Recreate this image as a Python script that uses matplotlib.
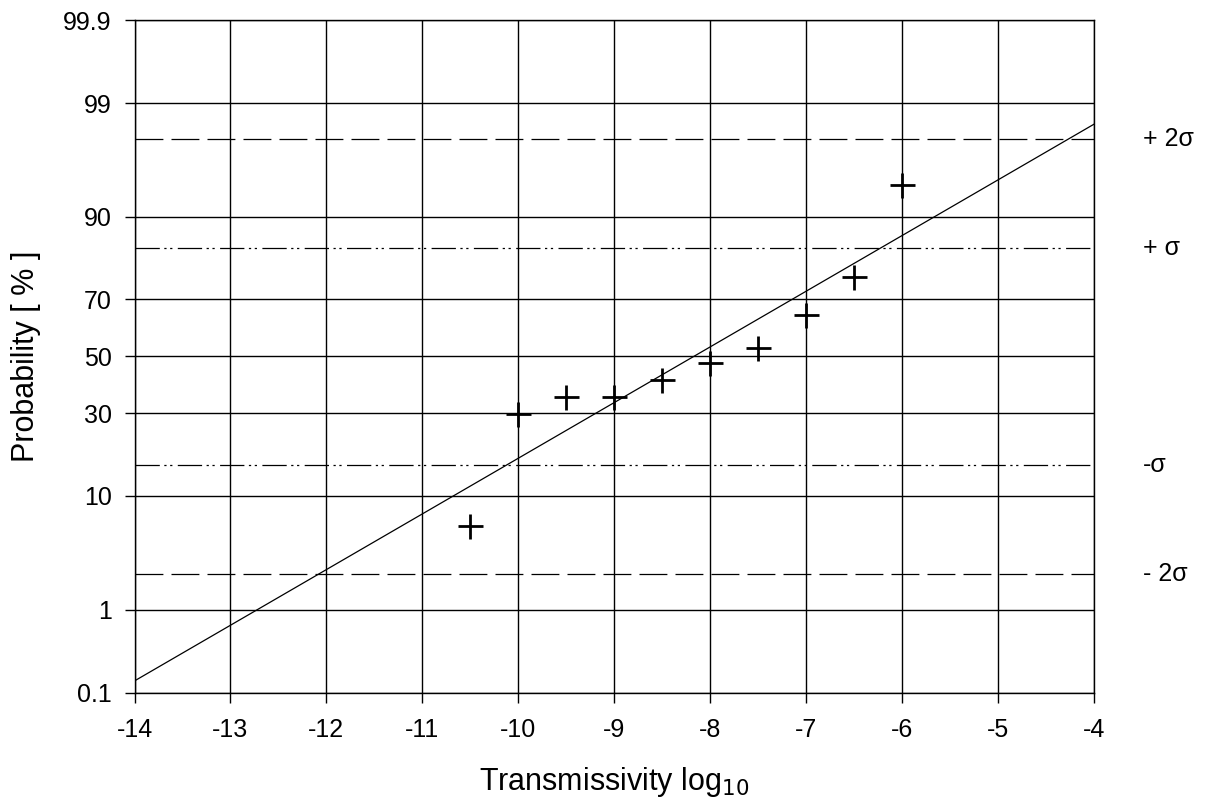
import numpy as np
import matplotlib
matplotlib.use("Agg")
import matplotlib.pyplot as plt
from statistics import NormalDist

# Observed cumulative probabilities of log10 transmissivity
log_t = [-10.5, -10.0, -9.5, -9.0, -8.5, -8.0, -7.5, -7.0, -6.5, -6.0]
prob_pct = [5.95, 29.8, 35.5, 35.5, 41.4, 47.4, 53.0, 64.9, 76.6, 94.2]

# Fitted normal distribution of log10 transmissivity
fit_mean = -8.17
fit_std = 1.955

# Axis ticks
x_ticks = [-14, -13, -12, -11, -10, -9, -8, -7, -6, -5, -4]
y_ticks = [0.1, 1, 10, 30, 50, 70, 90, 99, 99.9]
y_tick_labels = ["0.1", "1", "10", "30", "50", "70", "90", "99", "99.9"]

# Standard-deviation reference levels
sigma_levels = [2, 1, -1, -2]
sigma_labels = ["+ 2\u03c3", "+ \u03c3", "-\u03c3", "- 2\u03c3"]

_nd = NormalDist()


def probit(p):
    p = np.clip(np.asarray(p, dtype=float) / 100.0, 1e-9, 1 - 1e-9)
    return np.vectorize(_nd.inv_cdf, otypes=[float])(p)


def inv_probit(z):
    z = np.asarray(z, dtype=float)
    return 100.0 * np.vectorize(_nd.cdf, otypes=[float])(z)


plt.rcParams["font.family"] = ["Liberation Sans", "DejaVu Sans"]

fig = plt.figure(figsize=(12.11, 8.07), dpi=100)
ax = fig.add_axes([134.5 / 1211, 1 - 692.7 / 807, (1094 - 134.5) / 1211, (692.7 - 20) / 807])

ax.set_yscale("function", functions=(probit, inv_probit))
ax.set_xlim(-14, -4)
ax.set_ylim(0.1, 99.9)

ax.set_xticks(x_ticks)
ax.set_xticklabels([str(v) for v in x_ticks])
ax.set_yticks(y_ticks)
ax.set_yticklabels(y_tick_labels)
ax.yaxis.set_minor_locator(matplotlib.ticker.NullLocator())
ax.tick_params(axis="both", which="major", labelsize=18, length=7.5, width=1.0,
               color="black", direction="out")
ax.tick_params(axis="y", pad=9)
ax.tick_params(axis="x", pad=11)

ax.grid(True, which="major", color="black", linewidth=1.0)
for s in ax.spines.values():
    s.set_linewidth(1.0)
    s.set_color("black")

px = 0.72  # points per pixel at 100 dpi
dash_long = (0, (31 * px, 9 * px))
dash_dotdot = (0, (27 * px, 5 * px, 2.5 * px, 4 * px, 2.5 * px, 6 * px))
for lvl, lab in zip(sigma_levels, sigma_labels):
    ls = dash_long if abs(lvl) == 2 else dash_dotdot
    yv = inv_probit(lvl)
    ax.axhline(yv, color="black", linewidth=0.9, linestyle=ls, zorder=3)
    ax.annotate(lab, xy=(1, yv), xycoords=("axes fraction", "data"),
                xytext=(49 * px, 0), textcoords="offset points",
                ha="left", va="center", fontsize=18)

# Fitted line (straight on probability paper)
x_fit = np.array([-14.0, -4.0])
ax.plot(x_fit, inv_probit((x_fit - fit_mean) / fit_std), color="black",
        linewidth=0.9, zorder=4)

ax.plot(log_t, prob_pct, linestyle="none", marker="+", markersize=18,
        markeredgewidth=2.0, color="black", zorder=5)

ax.set_xlabel("Transmissivity log$_{10}$", fontsize=22, labelpad=16)
ax.set_ylabel("Probability [ % ]", fontsize=22, labelpad=16)

fig.savefig("out.png", dpi=100)
